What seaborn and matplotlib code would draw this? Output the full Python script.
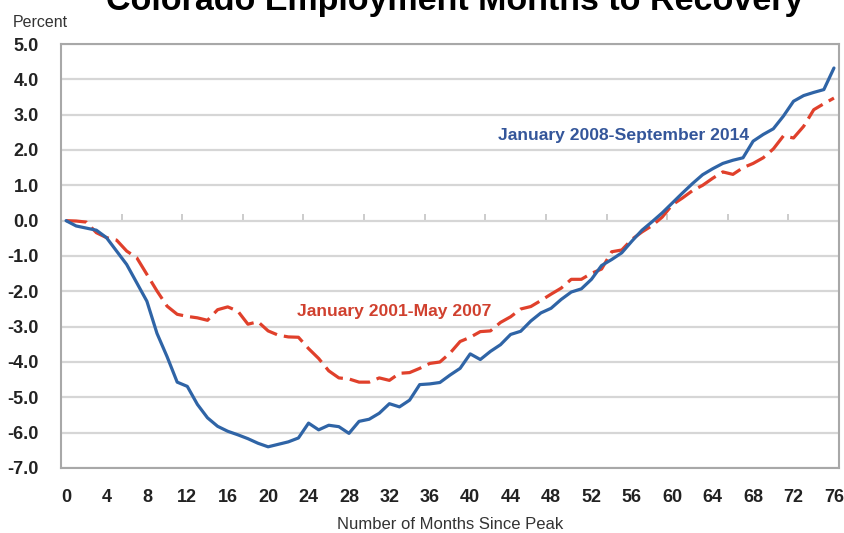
import numpy as np
import pandas as pd
import matplotlib
matplotlib.use("Agg")
import matplotlib.pyplot as plt
import seaborn as sns

# Data (percent change from peak employment)
months = list(range(0, 77))

recession_2008 = [
    0.00, -0.15, -0.21, -0.27, -0.48, -0.86, -1.24, -1.76, -2.28, -3.19,
    -3.85, -4.57, -4.69, -5.20, -5.58, -5.82, -5.96, -6.06, -6.17, -6.30,
    -6.40, -6.33, -6.26, -6.15, -5.73, -5.92, -5.79, -5.83, -6.02, -5.68,
    -5.62, -5.45, -5.18, -5.27, -5.08, -4.64, -4.62, -4.58, -4.37, -4.18,
    -3.77, -3.93, -3.70, -3.51, -3.22, -3.13, -2.84, -2.61, -2.48, -2.23,
    -2.02, -1.93, -1.66, -1.27, -1.10, -0.91, -0.58, -0.27, -0.03, 0.22,
    0.50, 0.78, 1.05, 1.30, 1.47, 1.62, 1.71, 1.78, 2.25, 2.44,
    2.60, 2.96, 3.38, 3.54, 3.63, 3.71, 4.32,
]

recession_2001 = [
    0.00, -0.01, -0.04, -0.34, -0.48, -0.55, -0.86, -1.05, -1.52, -1.99,
    -2.42, -2.65, -2.71, -2.75, -2.82, -2.52, -2.44, -2.56, -2.93, -2.86,
    -3.12, -3.24, -3.29, -3.30, -3.62, -3.90, -4.25, -4.45, -4.48, -4.57,
    -4.57, -4.45, -4.52, -4.32, -4.30, -4.18, -4.04, -4.00, -3.75, -3.42,
    -3.30, -3.14, -3.12, -2.88, -2.72, -2.50, -2.43, -2.26, -2.08, -1.91,
    -1.66, -1.66, -1.49, -1.37, -0.88, -0.83, -0.53, -0.32, -0.14, 0.10,
    0.45, 0.64, 0.85, 1.00, 1.20, 1.38, 1.31, 1.50, 1.62, 1.78,
    2.03, 2.40, 2.34, 2.67, 3.14, 3.31, 3.47,
]

x_ticks = list(range(0, 77, 4))
y_ticks = [5.0, 4.0, 3.0, 2.0, 1.0, 0.0, -1.0, -2.0, -3.0, -4.0, -5.0, -6.0, -7.0]

blue = "#2F64A6"
red = "#E0402B"
grid_col = "#D6D6D6"

sns.set_style("white")
plt.rcParams['font.family'] = ["Liberation Sans", "DejaVu Sans"]

df = pd.DataFrame({
    "month": months + months,
    "pct": recession_2008 + recession_2001,
    "period": ["2008"] * len(months) + ["2001"] * len(months),
})

fig = plt.figure(figsize=(8.44, 5.33), dpi=100)
ax = fig.add_axes([61 / 844, 1 - 468 / 533, 778 / 844, 424 / 533])

sns.lineplot(data=df[df.period == "2001"], x="month", y="pct", color=red,
             linewidth=2.3, ax=ax, zorder=3)
ax.lines[-1].set_dashes((6.5, 2.2))
sns.lineplot(data=df[df.period == "2008"], x="month", y="pct", color=blue,
             linewidth=2.3, ax=ax, zorder=4)

ax.set_xlim(-0.5, 76.5)
ax.set_ylim(-7, 5)
ax.set_yticks(y_ticks)
ax.set_yticklabels([f"{v:.1f}" for v in y_ticks], fontweight="bold",
                   fontsize=13, color="#222222")
ax.set_xticks(x_ticks)
ax.set_xticklabels([str(v) for v in x_ticks], fontweight="bold",
                   fontsize=13, color="#222222")
ax.tick_params(axis="x", length=0, pad=15)
ax.tick_params(axis="y", length=5, width=1.5, color=grid_col, pad=11)
ax.grid(axis="y", color=grid_col, linewidth=1.6, zorder=0)
for s in ax.spines.values():
    s.set_color("#A8A8A8")
    s.set_linewidth(1.5)

# tick marks along the zero line (between categories, every 6 months)
sec = ax.secondary_xaxis(7 / 12)
sec.set_xticks(np.arange(5.5, 76, 6))
sec.set_xticklabels([])
sec.tick_params(axis="x", direction="out", length=5, width=1.3, color="#C8C8C8")
sec.spines["bottom"].set_visible(False)
sec.spines["top"].set_visible(False)

ax.set_xlabel("Number of Months Since Peak", fontsize=12, color="#333333",
              labelpad=8)
ax.set_ylabel("")

ax.text(55.2, 2.4, "January 2008-September 2014", color="#34569A",
        fontsize=12.6, fontweight="bold", ha="center", va="center")
ax.text(32.5, -2.57, "January 2001-May 2007", color="#D0402E",
        fontsize=12.6, fontweight="bold", ha="center", va="center")

fig.text(13 / 844, 1 - 22 / 533, "Percent", fontsize=11.5, color="#333333",
         va="center", ha="left")
fig.text(455 / 844, 1 - 10 / 533, "Colorado Employment Months to Recovery",
         fontsize=24.5, fontweight="bold", ha="center", va="baseline",
         color="black")

fig.savefig("out.png", dpi=100)
